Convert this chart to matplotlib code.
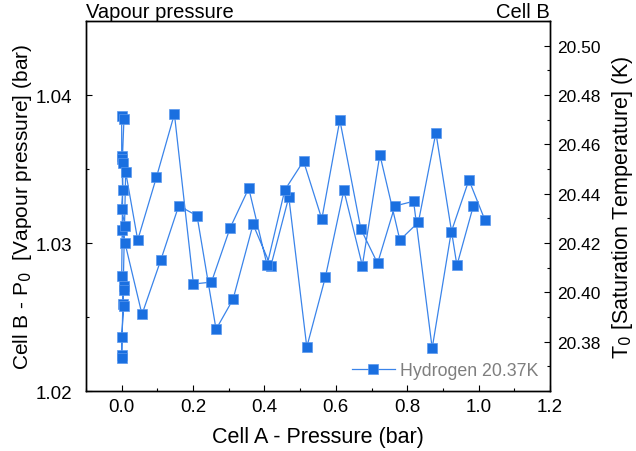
import matplotlib
matplotlib.use("Agg")
import matplotlib.pyplot as plt
from matplotlib.ticker import MultipleLocator, FixedLocator, FormatStrFormatter

plt.rcParams['font.family'] = ['Liberation Sans', 'DejaVu Sans']

# second sweep (read outward, plotted in reverse so the series runs continuously)
sweep_b_x = [0.0569, 0.1093, 0.1598, 0.2111, 0.2644, 0.3120, 0.3681, 0.4177, 0.4682,
             0.5186, 0.5705, 0.6224, 0.6742, 0.7233, 0.7794, 0.8312, 0.8803, 0.9392, 0.9849]
sweep_b_y = [1.02518, 1.02883, 1.03252, 1.03184, 1.02417, 1.02620, 1.03126, 1.02843, 1.03311,
             1.02297, 1.02768, 1.03356, 1.02847, 1.03597, 1.03020, 1.03140, 1.03745, 1.02849, 1.03248]

# points bunched at zero pressure
zero_x = [0.0093, 0.0000, 0.0093, 0.0000, 0.0028, 0.0000, 0.0000, 0.0064, 0.0020, 0.0036,
          0.0000, 0.0064, 0.0056, 0.0028, 0.0056, 0.0000, 0.0000, 0.0000, 0.0112]
zero_y = [1.03000, 1.03088, 1.03113, 1.03230, 1.03356, 1.03586, 1.03860, 1.03838, 1.03568, 1.03539,
          1.02779, 1.02707, 1.02684, 1.02586, 1.02574, 1.02363, 1.02245, 1.02225, 1.03480]

# first sweep
sweep_a_x = [0.0449, 0.0973, 0.1477, 0.2010, 0.2515, 0.3036, 0.3560, 0.4073, 0.4570, 0.5094,
             0.5607, 0.6112, 0.6700, 0.7169, 0.7654, 0.8178, 0.8699, 0.9232, 0.9728, 1.0177]
sweep_a_y = [1.03020, 1.03444, 1.03872, 1.02723, 1.02736, 1.03101, 1.03370, 1.02851, 1.03358, 1.03554,
             1.03162, 1.03831, 1.03095, 1.02863, 1.03250, 1.03282, 1.02289, 1.03074, 1.03426, 1.03155]

temp_ticks = [20.38, 20.40, 20.42, 20.44, 20.46, 20.48, 20.50]

x = sweep_b_x[::-1] + zero_x + sweep_a_x
y = sweep_b_y[::-1] + zero_y + sweep_a_y

blue = '#1a6fe0'

fig = plt.figure(figsize=(6.36, 4.52), dpi=100)
ax = fig.add_axes([0.1352, 0.1327, 0.7296, 0.8186])

ax.plot(x, y, color='#3a84ea', linewidth=0.9, marker='s', markersize=6.5,
        markerfacecolor=blue, markeredgecolor='#5a98ee', markeredgewidth=0.5,
        label='Hydrogen 20.37K')

ax.set_xlim(-0.1, 1.2)
ax.set_ylim(1.02, 1.045)
ax.xaxis.set_major_locator(MultipleLocator(0.2))
ax.xaxis.set_minor_locator(MultipleLocator(0.1))
ax.xaxis.set_major_formatter(FormatStrFormatter('%.1f'))
ax.yaxis.set_major_locator(MultipleLocator(0.01))
ax.yaxis.set_minor_locator(MultipleLocator(0.005))
ax.yaxis.set_major_formatter(FormatStrFormatter('%.2f'))
ax.tick_params(which='both', direction='in', labelsize=13.5, top=False, right=False)
ax.tick_params(which='major', length=4.5, width=0.8)
ax.tick_params(which='minor', length=2.5, width=0.8)
ax.tick_params(axis='y', pad=10)
ax.tick_params(axis='x', pad=5)
ax.set_xlabel('Cell A - Pressure (bar)', fontsize=15.5, labelpad=8)
ax.set_ylabel('Cell B - P$_0$  [Vapour pressure] (bar)', fontsize=15, labelpad=1)

ax2 = ax.twinx()
ax2.set_ylim(20.36, 20.51)
ax2.yaxis.set_major_locator(FixedLocator(temp_ticks))
ax2.yaxis.set_minor_locator(MultipleLocator(0.01))
ax2.yaxis.set_major_formatter(FormatStrFormatter('%.2f'))
ax2.tick_params(which='both', direction='in', labelsize=12.5, pad=5)
ax2.tick_params(which='major', length=4.5, width=0.8)
ax2.tick_params(which='minor', length=2.5, width=0.8)
ax2.set_ylabel('T$_0$ [Saturation Temperature] (K)', fontsize=15.5, labelpad=7)

for a in (ax, ax2):
    for s in a.spines.values():
        s.set_linewidth(1.0)

leg = ax.legend(loc='lower right', frameon=False, fontsize=12.8, handlelength=2.4,
                handletextpad=0.3, borderaxespad=0.25)
for t in leg.get_texts():
    t.set_color('#7f7f7f')

ax.text(0.0, 0.999, 'Vapour pressure', transform=ax.transAxes, fontsize=14.5, ha='left', va='bottom')
ax.text(1.0, 0.999, 'Cell B', transform=ax.transAxes, fontsize=14.5, ha='right', va='bottom')

fig.savefig('out.png', dpi=100)
